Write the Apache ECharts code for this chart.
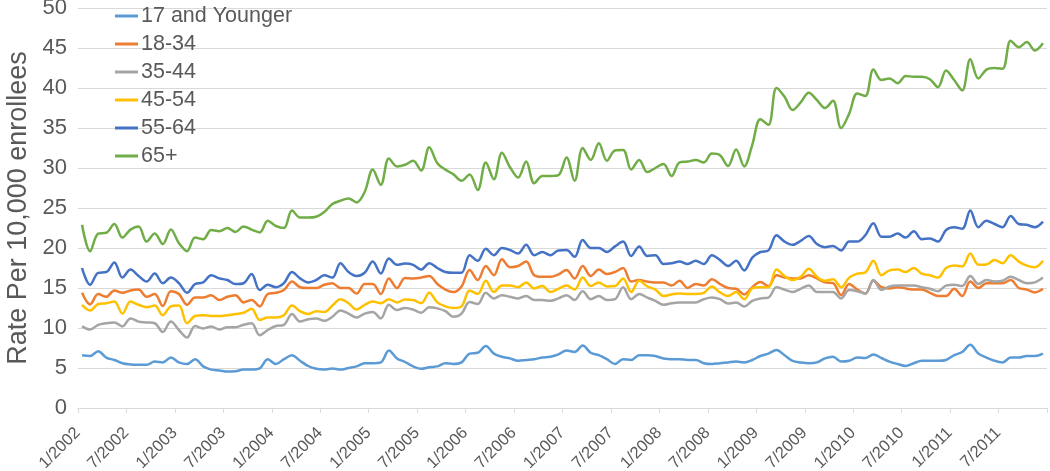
<!DOCTYPE html>
<html><head><meta charset="utf-8">
<script src="https://cdn.jsdelivr.net/npm/echarts@6/dist/echarts.min.js"></script>
<style>html,body{margin:0;padding:0;background:#fff}#c{width:1050px;height:471px}</style>
</head><body><div id="c"></div>
<script>
const years = [2002,2003,2004,2005,2006,2007,2008,2009,2010,2011];
const seriesNames = ['17 and Younger','18-34','35-44','45-54','55-64','65+'];
const colors = ['#5B9BD5','#ED7D31','#A5A5A5','#FFC000','#4472C4','#70AD47'];

const age17 = [6.6,6.5,7.1,6.3,6.0,5.6,5.45,5.4,5.4,5.8,5.7,6.3,5.7,5.5,6.1,5.2,4.8,4.7,4.55,4.6,4.8,4.8,4.95,6.1,5.5,6.1,6.6,5.9,5.25,4.9,4.8,4.95,4.8,5.0,5.2,5.6,5.6,5.7,7.2,6.2,
5.75,
5.2,4.9,5.1,5.2,5.6,5.5,5.7,6.8,6.9,7.75,6.8,6.4,6.2,5.9,6.0,6.1,6.3,6.4,6.7,7.2,7.0,7.8,6.9,6.6,6.1,5.5,6.1,6.0,6.6,6.6,6.5,6.2,6.1,6.1,6.0,6.0,5.6,5.5,5.6,
5.7,
5.8,5.7,6.0,6.5,6.8,7.25,6.6,5.9,5.7,5.6,5.7,6.2,6.4,5.8,5.9,6.3,6.25,6.7,6.25,5.8,5.5,5.25,5.6,5.9,5.9,5.9,6.0,6.6,7.0,7.9,6.8,6.3,5.9,5.7,6.3,6.3,6.5,6.5,6.8];

const age18_34 = [14.4,12.95,14.25,13.9,14.7,14.4,14.7,14.8,13.9,14.25,12.75,14.6,14.25,12.9,13.8,13.8,14.1,13.5,13.9,14.1,13.2,13.5,12.7,14.25,14.4,14.75,15.8,15.1,15.0,15.0,15.4,15.6,15.0,15.0,14.3,15.5,15.5,14.25,16.2,15.0,
16.25,
16.2,16.3,16.5,15.5,14.8,14.5,15.2,17.25,16.0,17.75,16.6,18.6,17.6,17.75,18.3,16.6,16.4,16.4,16.7,17.25,16.2,17.75,16.5,17.3,16.75,17.0,17.5,15.8,16.0,15.8,15.7,15.7,15.3,15.9,15.0,15.5,15.3,16.1,15.5,
15.0,
14.9,14.2,15.1,15.75,15.25,16.6,16.3,16.2,16.2,16.6,16.2,15.7,15.6,14.1,15.5,14.8,14.3,15.9,15.1,14.95,15.1,14.95,14.8,14.8,14.4,14.0,14.0,14.9,14.0,15.8,15.0,15.6,15.6,15.6,16.0,15.0,14.8,14.45,14.9];

const age35_44 = [10.2,9.8,10.4,10.6,10.7,10.2,11.2,10.8,10.7,10.6,9.5,10.8,9.75,8.8,10.25,9.95,10.2,9.8,10.1,10.1,10.4,10.6,9.1,9.75,10.25,10.4,11.75,10.8,11.1,11.2,10.9,11.4,12.2,11.8,11.3,11.8,12.0,11.2,12.9,12.25,
12.5,
12.3,11.9,12.6,12.45,12.1,11.4,11.8,13.25,13.0,14.4,13.7,14.1,13.9,13.7,14.0,13.5,13.5,13.4,13.7,14.1,13.5,14.6,13.6,14.0,13.5,13.6,15.1,13.6,14.25,13.8,13.4,12.9,13.1,13.2,13.2,13.2,13.6,13.8,13.6,
13.05,
13.2,12.7,13.4,13.7,13.8,15.1,14.8,14.5,14.9,15.3,14.5,14.5,14.5,13.7,14.75,14.6,14.3,16.0,14.75,15.2,15.3,15.3,15.3,15.1,14.9,14.6,15.3,15.4,15.25,16.5,15.5,16.0,15.8,15.9,16.4,16.0,15.6,15.7,16.3];

const age45_54 = [12.9,12.2,13.0,13.1,13.3,11.8,13.3,12.9,12.6,12.8,11.6,12.7,12.8,10.6,11.5,11.6,11.5,11.5,11.6,11.75,11.9,12.4,11.0,11.3,11.3,11.6,12.8,12.1,11.75,12.1,12.0,12.8,13.6,13.1,12.3,12.9,13.3,13.1,13.6,13.2,
13.55,
13.5,13.1,14.4,13.2,12.7,12.5,12.7,14.7,14.25,15.9,14.5,15.3,15.3,15.1,15.7,14.95,15.25,14.5,14.9,15.3,14.8,16.3,15.25,15.7,15.2,15.25,16.2,14.5,15.9,15.2,14.8,14.0,14.2,14.3,14.25,14.25,14.4,15.2,14.45,
14.0,
14.5,13.6,14.95,15.1,15.1,17.3,16.5,16.0,16.4,17.4,16.4,15.9,16.1,15.1,16.3,16.8,16.95,18.4,16.6,17.2,17.3,17.0,17.5,16.8,16.6,16.3,17.5,17.8,17.7,19.3,17.9,17.95,18.5,18.1,19.1,18.3,17.8,17.6,18.4];

const age55_64 = [17.5,15.4,16.9,17.0,18.2,16.3,17.3,16.5,15.8,16.8,15.6,16.3,15.6,14.4,15.5,15.7,16.6,16.2,16.0,15.5,15.6,16.75,14.75,15.4,15.1,15.6,17.0,16.2,15.7,16.0,16.6,16.3,18.1,17.0,16.5,16.9,18.3,16.8,18.7,17.9,
18.05,
17.9,17.3,18.1,17.5,17.0,16.9,16.9,19.1,18.4,19.9,19.1,20.0,19.75,19.3,20.4,19.1,19.5,19.1,19.7,19.75,18.9,21.0,20.0,20.0,19.5,20.2,20.8,19.0,20.2,19.0,19.1,18.0,18.1,18.3,18.0,18.4,18.0,19.1,18.5,
17.75,
18.4,17.2,18.8,19.5,19.7,21.6,20.8,20.4,20.9,21.5,20.5,20.1,20.25,19.7,20.8,20.8,21.6,23.1,21.4,21.4,21.8,21.3,22.1,21.1,21.2,20.8,22.25,22.6,22.4,24.7,22.6,23.4,23.0,22.6,24.0,23.0,22.9,22.6,23.3];

const age65plus = [22.9,19.6,21.8,21.9,23.0,21.3,22.3,22.7,20.8,21.8,20.5,22.3,20.6,19.6,21.3,21.1,22.25,22.1,22.5,22.0,22.7,22.3,21.95,23.4,22.75,22.5,24.7,23.8,23.8,23.9,24.5,25.5,25.9,26.2,25.7,27.0,29.8,27.9,31.2,30.2,
30.4,30.9,29.7,32.6,30.6,29.8,29.2,28.4,29.2,27.25,30.7,28.6,31.9,30.1,28.8,30.8,28.1,29.0,29.0,29.1,31.3,28.4,32.5,31.0,33.1,30.9,32.2,32.25,29.8,31.0,29.5,30.0,30.5,29.0,30.7,30.8,31.0,30.7,31.8,31.6,
30.25,
32.3,30.2,32.9,36.1,35.4,40.0,38.9,37.25,38.2,39.4,38.5,37.5,38.4,35.0,36.8,39.3,39.0,42.3,41.0,41.2,40.6,41.5,41.4,41.4,41.1,40.1,42.2,41.0,39.7,43.6,41.2,42.3,42.5,42.4,45.9,45.1,45.75,44.7,45.6];

const categories = [];
years.forEach(y => { for (let m = 1; m <= 12; m++) categories.push(m + '/' + y); });

const allData = [age17, age18_34, age35_44, age45_54, age55_64, age65plus];
const font = 'Liberation Sans, Arial, sans-serif';

const chart = echarts.init(document.getElementById('c'), null, {renderer: 'canvas'});
chart.setOption({
  animation: false,
  backgroundColor: '#ffffff',
  color: colors,
  grid: {left: 78, right: 3, top: 8, bottom: 63, containLabel: false, outerBoundsMode: 'none'},
  legend: {
    orient: 'vertical', left: 115, top: 5, padding: 0, itemWidth: 23, itemHeight: 3, itemGap: 6,
    icon: 'rect',
    data: seriesNames,
    textStyle: {fontFamily: font, fontSize: 21.5, color: '#595959', lineHeight: 22, padding: [0,0,0,-2]}
  },
  xAxis: {
    type: 'category', data: categories, boundaryGap: true,
    axisLine: {lineStyle: {color: '#D9D9D9', width: 1}},
    axisTick: {show: true, interval: 5, length: 5, lineStyle: {color: '#D9D9D9'}},
    axisLabel: {interval: 5, rotate: 45, margin: 18, padding: [0,6,0,0], fontFamily: font, fontSize: 16.5, color: '#595959'},
    splitLine: {show: false}
  },
  yAxis: {
    type: 'value', min: 0, max: 50, interval: 5,
    name: 'Rate Per 10,000 enrollees', nameLocation: 'middle', nameGap: 44,
    nameTextStyle: {fontFamily: font, fontSize: 27, color: '#595959'},
    axisLine: {show: false}, axisTick: {show: false},
    axisLabel: {margin: 11, fontFamily: font, fontSize: 22, color: '#595959'},
    splitLine: {lineStyle: {color: '#D9D9D9', width: 1}}
  },
  series: seriesNames.map((n, k) => ({
    name: n, type: 'line', data: allData[k], smooth: 0.35,
    showSymbol: false, symbol: 'none',
    lineStyle: {width: 2.5, color: colors[k]}
  }))
});
</script></body></html>
